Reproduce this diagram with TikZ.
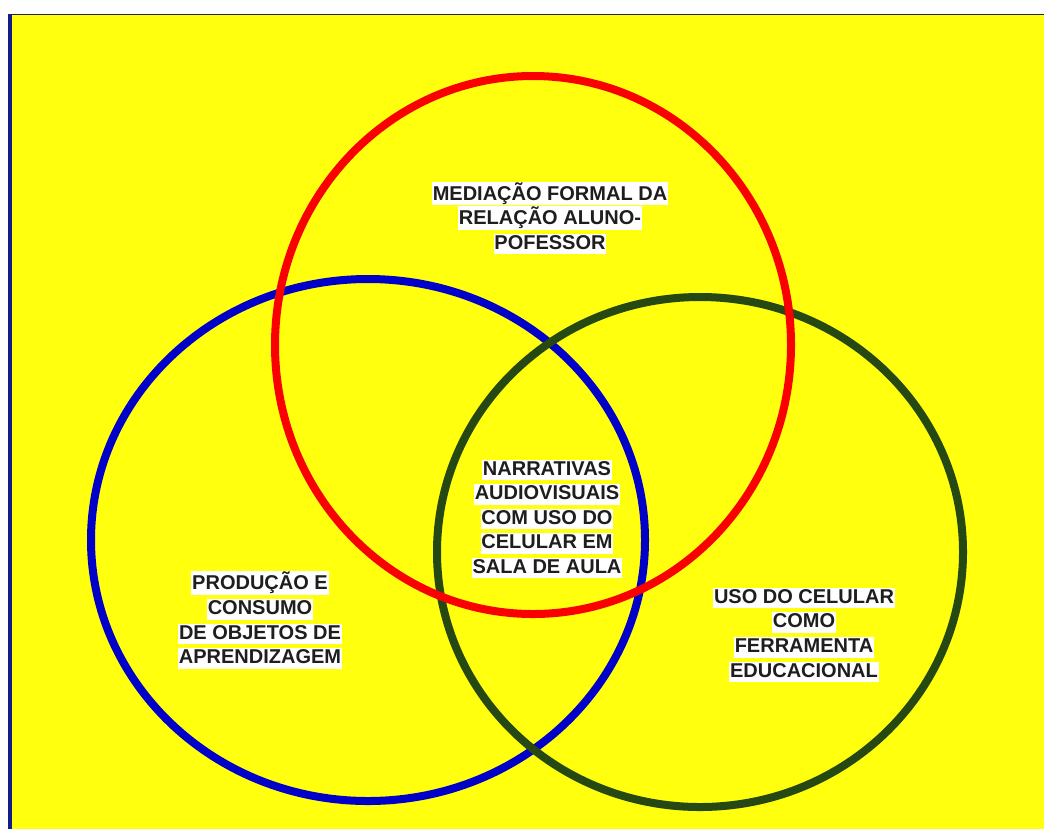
\documentclass[tikz,border=0pt]{standalone}
\usepackage{fontspec}
\setmainfont{Liberation Sans}
\definecolor{bgyellow}{RGB}{255,255,14}
\definecolor{ringred}{RGB}{250,0,0}
\definecolor{ringblue}{RGB}{0,0,200}
\definecolor{ringgreen}{RGB}{38,72,18}
\definecolor{navyline}{RGB}{20,30,130}
\definecolor{txt}{RGB}{30,30,30}
\newcommand\hlb[1]{{\setlength\fboxsep{0.6pt}\colorbox{white}{\rule[-3.2pt]{0pt}{14.2pt}#1}}}
\tikzset{
  ring/.style={line width=6pt},
  lbl/.style={font=\bfseries\fontsize{15}{18.4}\selectfont, text=txt, align=center, inner sep=0pt}
}
\begin{document}
\begin{tikzpicture}[x=0.75pt,y=-0.75pt]
\useasboundingbox (0,0) rectangle (1044,829);
\fill[white] (0,0) rectangle (1044,829);
\fill[bgyellow] (8,14) rectangle (1044,829);
\draw[line width=0.9pt, black!85] (8,14.5) -- (1044,14.5);
\draw[line width=3pt, navyline] (9.5,14) -- (9.5,829);
\draw[ring, ringblue] (368,540) ellipse [x radius=277, y radius=261];
\draw[ring, ringgreen] (700,552) ellipse [x radius=263, y radius=255];
\draw[ring, ringred] (533,345) ellipse [x radius=258, y radius=269];
\node[lbl] (top) at (550,218) {\hlb{MEDIAÇÃO FORMAL DA}\\\hlb{RELAÇÃO ALUNO-}\\\hlb{POFESSOR}};
\node[lbl] (mid) at (547,519) {\hlb{NARRATIVAS}\\\hlb{AUDIOVISUAIS}\\\hlb{COM USO DO}\\\hlb{CELULAR EM}\\\hlb{SALA DE AULA}};
\node[lbl] (left) at (260,620) {\hlb{PRODUÇÃO E}\\\hlb{CONSUMO}\\\hlb{DE OBJETOS DE}\\\hlb{APRENDIZAGEM}};
\node[lbl] (right) at (804,635) {\hlb{USO DO CELULAR}\\\hlb{COMO}\\\hlb{FERRAMENTA}\\\hlb{EDUCACIONAL}};
\end{tikzpicture}
\end{document}
